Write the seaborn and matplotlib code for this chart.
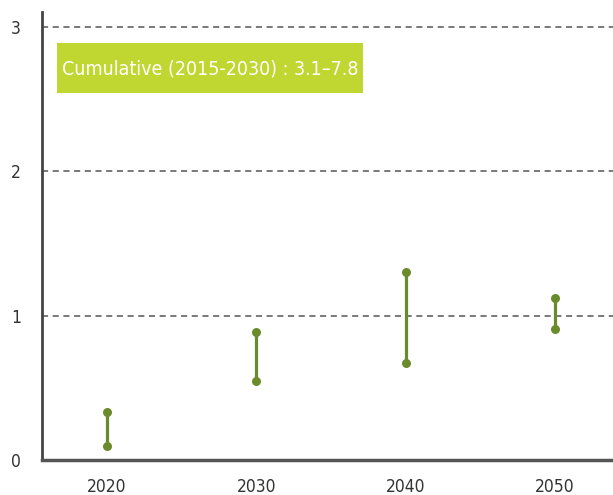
import seaborn as sns
from matplotlib import pyplot as plt
from matplotlib.patches import Rectangle
import pandas as pd

years = [2020, 2030, 2040, 2050]
low_values = [0.10, 0.55, 0.67, 0.91]
high_values = [0.33, 0.89, 1.30, 1.12]
y_ticks = [0, 1, 2, 3]
note = "Cumulative (2015-2030) : 3.1\u20137.8"

green = "#6b8a2c"
lime = "#bfd730"

df = pd.DataFrame({
    "year": years * 2,
    "value": low_values + high_values,
})

sns.set_style("white")
plt.rcParams["font.family"] = ["DejaVu Sans"]
plt.rcParams["font.stretch"] = "condensed"

fig = plt.figure(figsize=(6.13, 4.95), dpi=100)
ax = fig.add_axes([42 / 613, 1 - 460 / 495, 1 - 42 / 613, (460 - 12) / 495])

# vertical range bars, one line per year
sns.lineplot(data=df, x="year", y="value", units="year", estimator=None,
             sort=False, color=green, linewidth=2.3, ax=ax, legend=False)
sns.scatterplot(data=df, x="year", y="value", color=green, s=42,
                edgecolor=green, linewidth=0, ax=ax, legend=False, zorder=3)

ax.set_xlim(2020 - 65 / 14.93, 2020 + 506 / 14.93)
ax.set_ylim(0, 3.105)
ax.set_xticks(years)
ax.set_xticklabels([str(y) for y in years])
ax.set_yticks(y_ticks)
ax.set_yticklabels([str(t) for t in y_ticks])
ax.tick_params(axis="both", length=0, labelsize=12.5, colors="#333333")
ax.tick_params(axis="x", pad=13)
ax.tick_params(axis="y", pad=15)
for lbl in ax.get_xticklabels() + ax.get_yticklabels():
    lbl.set_stretch("condensed")

for t in y_ticks[1:]:
    ax.axhline(t, color="#555555", linewidth=1.1, linestyle=(0, (4, 3)), zorder=1)

ax.set_xlabel("")
ax.set_ylabel("")
for side in ["top", "right"]:
    ax.spines[side].set_visible(False)
ax.spines["left"].set_color("#444444")
ax.spines["left"].set_linewidth(2)
ax.spines["bottom"].set_color("#555555")
ax.spines["bottom"].set_linewidth(2.5)

# highlighted note box
fig.patches.append(Rectangle((57 / 613, 1 - 93 / 495), 306 / 613, 50 / 495,
                             transform=fig.transFigure, facecolor=lime,
                             edgecolor="none", zorder=5))
fig.text(210 / 613, 1 - 69 / 495, note, ha="center", va="center",
         color="white", fontsize=14, stretch="condensed", zorder=6)

fig.savefig("out.png", dpi=100)
